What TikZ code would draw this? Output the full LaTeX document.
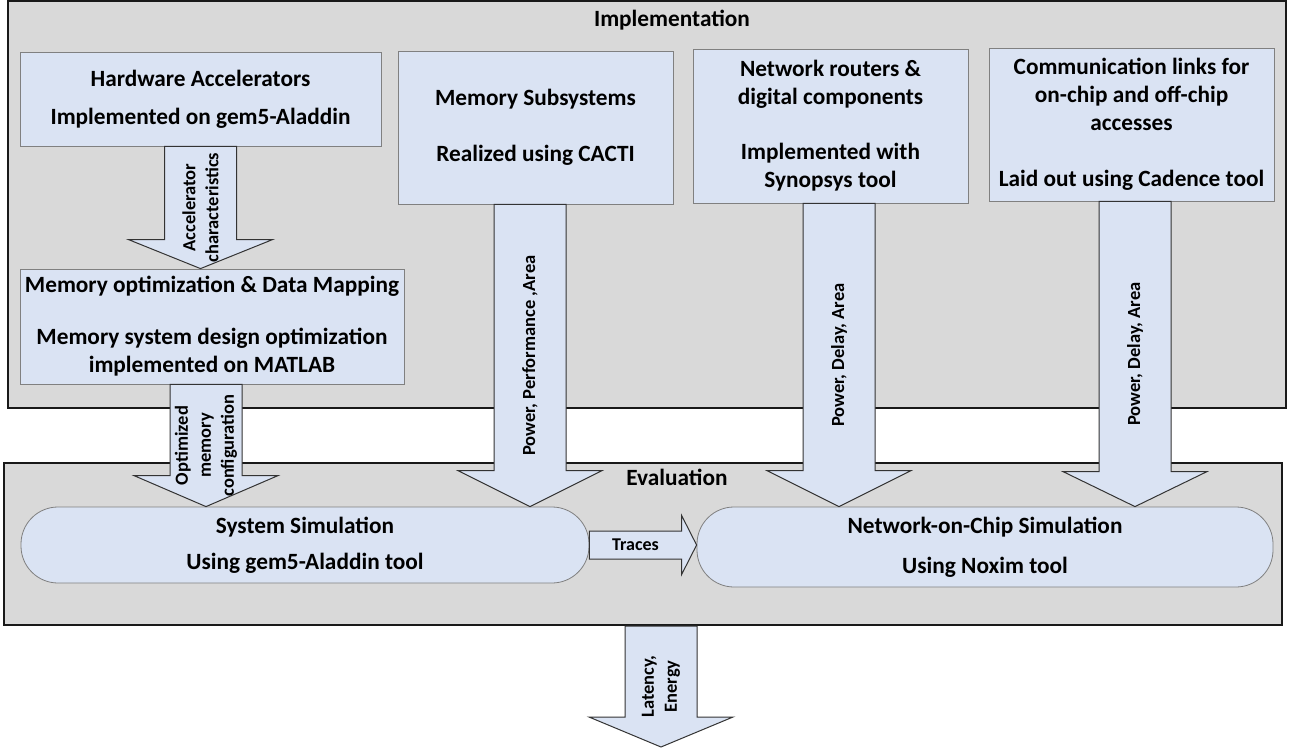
\documentclass[tikz,border=0pt]{standalone}
\usepackage{fontspec}
\setmainfont{Carlito}
\usetikzlibrary{calc}
\definecolor{boxblue}{HTML}{DAE3F3}
\definecolor{panelgray}{HTML}{D9D9D9}
\tikzset{
 panel/.style={draw=black!90, line width=2pt, fill=panelgray, inner sep=0pt},
 blockbox/.style={draw=black!50, fill=boxblue, line width=0.8pt, align=center, inner sep=0pt,
   font=\bfseries\fontsize{23.3}{28}\selectfont},
 simbox/.style={blockbox, rounded corners=37pt},
 blockarrow/.style={draw=black!80, fill=boxblue, line width=1pt},
 arrowtext/.style={rotate=90, align=center, font=\bfseries\fontsize{18.5}{23}\selectfont},
 paneltitle/.style={font=\bfseries\fontsize{23.3}{26}\selectfont},
}
% downward block arrow: source, target, x shift, head length, label
\newcommand{\downblock}[5]{%
  \draw[blockarrow] let \p1=($(#1)+(#3,0)$), \p2=(#2) in
    (\x1-36,\y1) -- (\x1+36,\y1) -- (\x1+36,\y2+#4) -- (\x1+72,\y2+#4)
    -- (\x1,\y2) -- (\x1-72,\y2+#4) -- (\x1-36,\y2+#4) -- cycle
    (\x1,{(\y1+\y2)/2}) node[arrowtext] {#5};
}

\begin{document}
\begin{tikzpicture}[x=1pt, y=-1pt]
    \useasboundingbox (0,0) rectangle (1289,751);

    % panels
    \node[panel, minimum width=1278, minimum height=407] (impl) at (647,204.5) {};
    \node[paneltitle] (impltitle) at (672,20) {Implementation};
    \node[panel, minimum width=1278, minimum height=162] (eval) at (643,544) {};
    \node[paneltitle] (evaltitle) at (677,477) {Evaluation};

    % implementation blocks
    \node[blockbox, minimum width=361, minimum height=94] (hw) at (200.5,99)
        {Hardware Accelerators\\[10pt]Implemented on gem5-Aladdin};
    \node[blockbox, minimum width=384, minimum height=115] (memopt) at (212,326.5)
        {Memory optimization \& Data Mapping\\[24pt]Memory system design optimization\\implemented on MATLAB};
    \node[blockbox, minimum width=275, minimum height=153] (memsub) at (535.5,127.5)
        {Memory Subsystems\\[28pt]Realized using CACTI};
    \node[blockbox, minimum width=275, minimum height=154] (netw) at (830.5,126)
        {Network routers \&\\digital components\\[27pt]Implemented with\\Synopsys tool};
    \node[blockbox, minimum width=285, minimum height=153] (comm) at (1131.5,124.5)
        {Communication links for\\on-chip and off-chip\\accesses\\[28pt]Laid out using Cadence tool};

    % evaluation blocks
    \node[simbox, minimum width=568, minimum height=76] (syssim) at (305,545)
        {System Simulation\\[8pt]Using gem5-Aladdin tool};
    \node[simbox, minimum width=576, minimum height=80] (noc) at (985,547)
        {Network-on-Chip Simulation\\[12pt]Using Noxim tool};
    \coordinate (result) at (661,747);

    % block arrows
    \downblock{hw.south}{memopt.north}{0}{29}{Accelerator\\characteristics}
    \downblock{memopt.south}{syssim.north}{-6}{31}{Optimized\\memory\\configuration}
    \downblock{memsub.south}{syssim.north}{-5.5}{36}{Power, Performance ,Area}
    \downblock{netw.south}{noc.north}{8.5}{36}{Power, Delay, Area}
    \downblock{comm.south}{noc.north}{3.5}{35}{Power, Delay, Area}
    \downblock{eval.south}{result}{18}{30}{Latency,\\Energy}

    \draw[blockarrow] let \p1=(syssim.east), \p2=(noc.west) in
        (\x1,\y1-14) -- (\x2-15,\y1-14) -- (\x2-15,\y1-29.5) -- (\x2,\y1)
        -- (\x2-15,\y1+29.5) -- (\x2-15,\y1+14) -- (\x1,\y1+14) -- cycle
        ({(\x1+\x2-15)/2},\y1) node[font=\bfseries\fontsize{18}{20}\selectfont] {Traces};
\end{tikzpicture}
\end{document}
